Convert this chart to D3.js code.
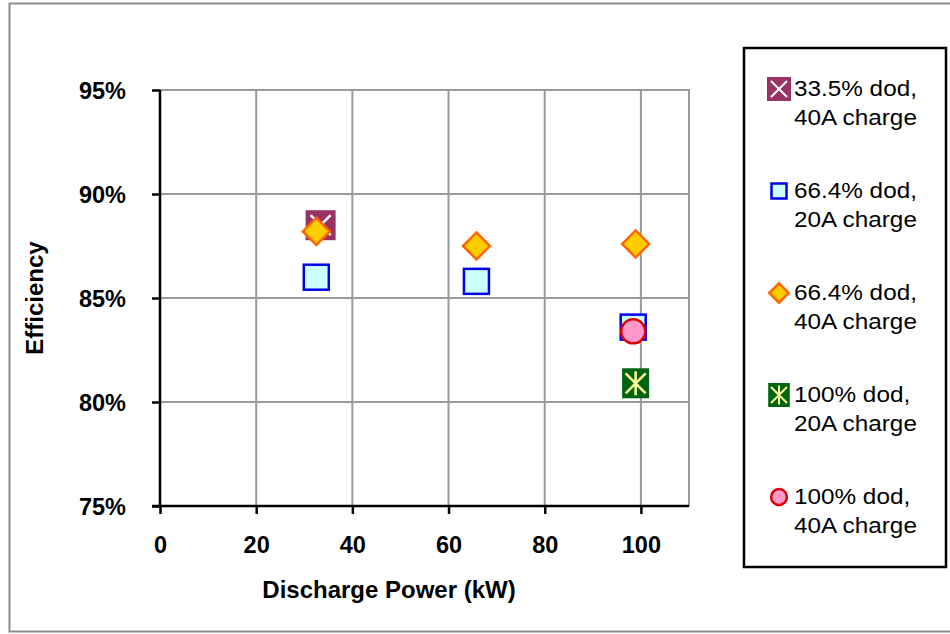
<!DOCTYPE html>
<html>
<head>
<meta charset="utf-8">
<script src="https://cdn.jsdelivr.net/npm/d3@7"></script>
<style>
  html, body { margin: 0; padding: 0; background: #fff; }
  svg { display: block; font-family: Arial, "Liberation Sans", sans-serif; }
</style>
</head>
<body>
<svg id="chart" width="950" height="634"></svg>
<script>
// Series labels (two lines each in the legend)
const seriesLabels = [
  ["33.5% dod,", "40A charge"],
  ["66.4% dod,", "20A charge"],
  ["66.4% dod,", "40A charge"],
  ["100% dod,", "20A charge"],
  ["100% dod,", "40A charge"]
];

// Discharge power (kW) and efficiency for each series
const dod335c40Power = [33.4];
const dod335c40Eff   = [0.885];
const dod664c20Power = [32.5, 65.8, 98.4];
const dod664c20Eff   = [0.860, 0.858, 0.836];
const dod664c40Power = [32.5, 65.8, 98.9];
const dod664c40Eff   = [0.882, 0.875, 0.876];
const dod100c20Power = [98.9];
const dod100c20Eff   = [0.809];
const dod100c40Power = [98.4];
const dod100c40Eff   = [0.834];

const xTicks = [0, 20, 40, 60, 80, 100];
const yTicks = [0.75, 0.80, 0.85, 0.90, 0.95];

const svg = d3.select("#chart");

const plot = { left: 160, right: 689, top: 90, bottom: 506 };
const x = d3.scaleLinear().domain([0, 110]).range([plot.left, plot.right]);
const y = d3.scaleLinear().domain([0.75, 0.95]).range([plot.bottom, plot.top]);

// outer chart frame
svg.append("rect")
  .attr("x", 9.5).attr("y", 3.5).attr("width", 950).attr("height", 628)
  .attr("fill", "#fff").attr("stroke", "#8c8c8c").attr("stroke-width", 2);

// gridlines
const grid = svg.append("g");
grid.selectAll("line.gx").data(xTicks.filter(d => d > 0)).join("line")
  .attr("x1", d => x(d)).attr("x2", d => x(d))
  .attr("y1", plot.top).attr("y2", plot.bottom)
  .attr("stroke", "#9a9a9a").attr("stroke-width", 2);
grid.selectAll("line.gy").data(yTicks.filter(d => d > 0.75)).join("line")
  .attr("x1", plot.left).attr("x2", plot.right)
  .attr("y1", d => y(d)).attr("y2", d => y(d))
  .attr("stroke", "#9a9a9a").attr("stroke-width", 2);
// right edge of plot area
grid.append("line")
  .attr("x1", plot.right).attr("x2", plot.right)
  .attr("y1", plot.top - 1).attr("y2", plot.bottom)
  .attr("stroke", "#9a9a9a").attr("stroke-width", 2);

// axes
const xAxis = svg.append("g")
  .attr("transform", `translate(0,${plot.bottom})`)
  .call(d3.axisBottom(x).tickValues(xTicks).tickSize(8).tickPadding(22).tickSizeOuter(0));
const yAxis = svg.append("g")
  .attr("transform", `translate(${plot.left},0)`)
  .call(d3.axisLeft(y).tickValues(yTicks).tickFormat(d3.format(".0%")).tickSize(8).tickPadding(26).tickSizeOuter(0));

[xAxis, yAxis].forEach(g => {
  g.select(".domain").attr("stroke", "#000").attr("stroke-width", 2.5);
  g.selectAll(".tick line").attr("stroke", "#000").attr("stroke-width", 2.5);
  g.selectAll(".tick text")
    .attr("fill", "#000").attr("font-size", 23.5).attr("font-weight", "bold")
    .attr("font-family", "Arial, 'Liberation Sans', sans-serif");
});
// horizontal axis line spans the full plot width
xAxis.select(".domain").attr("d", `M${plot.left - 8},0H${plot.right}`);
yAxis.select(".domain").attr("d", `M0,${plot.top}V${plot.bottom}`);
yAxis.selectAll(".tick text").attr("dy", "0.36em");

// axis titles
svg.append("text")
  .attr("x", 389).attr("y", 598)
  .attr("text-anchor", "middle").attr("font-size", 24).attr("font-weight", "bold")
  .text("Discharge Power (kW)");
svg.append("text")
  .attr("transform", "translate(43,298) rotate(-90)")
  .attr("text-anchor", "middle").attr("font-size", 24).attr("font-weight", "bold")
  .text("Efficiency");

// marker painters: (selection, size scale)
function markX(g, s) {
  const h = 15 * s, k = 10 * s;
  g.append("rect").attr("x", -h).attr("y", -h).attr("width", 2 * h).attr("height", 2 * h)
    .attr("fill", "#993366");
  g.append("path").attr("d", `M${-k},${-k}L${k},${k}M${k},${-k}L${-k},${k}`)
    .attr("stroke", "#fff").attr("stroke-width", 2.5 * s);
}
function markSquare(g, s) {
  const h = 12.5 * s;
  g.append("rect").attr("x", -h).attr("y", -h).attr("width", 2 * h).attr("height", 2 * h)
    .attr("fill", "#ccffff").attr("stroke", "#0000ee").attr("stroke-width", 2.5);
}
function markDiamond(g, s) {
  const h = 13.5 * s;
  g.append("path").attr("d", `M0,${-h}L${h},0L0,${h}L${-h},0Z`)
    .attr("fill", "#ffcc00").attr("stroke", "#ff6600").attr("stroke-width", 2.5);
}
function markStar(g, s) {
  const w = 13.5 * s, hh = 15 * s, k = 10 * s, v = 12 * s;
  g.append("rect").attr("x", -w).attr("y", -hh).attr("width", 2 * w).attr("height", 2 * hh)
    .attr("fill", "#006411");
  g.append("path").attr("d", `M${-k},${-k}L${k},${k}M${k},${-k}L${-k},${k}M0,${-v}V${v}`)
    .attr("stroke", "#ffff99").attr("stroke-width", 2.5 * s);
}
function markCircle(g, s) {
  g.append("circle").attr("r", 12 * s)
    .attr("fill", "#ff99cc").attr("stroke", "#e00000").attr("stroke-width", 2.5);
}

const series = [
  { px: dod335c40Power, py: dod335c40Eff, mark: markX,       legendScale: 0.8 },
  { px: dod664c20Power, py: dod664c20Eff, mark: markSquare,  legendScale: 0.6 },
  { px: dod664c40Power, py: dod664c40Eff, mark: markDiamond, legendScale: 0.72 },
  { px: dod100c20Power, py: dod100c20Eff, mark: markStar,    legendScale: 0.8 },
  { px: dod100c40Power, py: dod100c40Eff, mark: markCircle,  legendScale: 0.66 }
];

// points
series.forEach(sr => {
  sr.px.forEach((p, i) => {
    const g = svg.append("g").attr("transform", `translate(${x(p)},${y(sr.py[i])})`);
    sr.mark(g, 1);
  });
});

// legend
const legend = svg.append("g");
legend.append("rect")
  .attr("x", 744).attr("y", 48).attr("width", 202).attr("height", 519)
  .attr("fill", "#fff").attr("stroke", "#000").attr("stroke-width", 2.5);

series.forEach((sr, i) => {
  const cy = 89 + i * 102;
  const g = legend.append("g").attr("transform", `translate(779,${cy})`);
  sr.mark(g, sr.legendScale);
  // label text, slightly widened
  const t = legend.append("text")
    .attr("transform", `translate(794,${cy + 7}) scale(1.08,1)`)
    .attr("font-size", 22.5).attr("fill", "#000");
  t.append("tspan").attr("x", 0).text(seriesLabels[i][0]);
  t.append("tspan").attr("x", 0).attr("dy", 29.5).text(seriesLabels[i][1]);
});
</script>
</body>
</html>
